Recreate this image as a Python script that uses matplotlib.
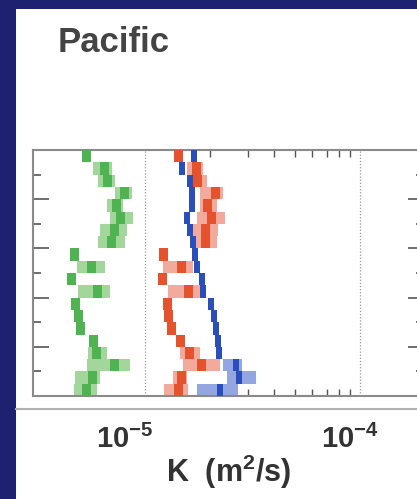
import numpy as np
import matplotlib.pyplot as plt
import matplotlib.transforms as mtransforms
from matplotlib.patches import Rectangle
from matplotlib.lines import Line2D

plt.rcParams['font.family'] = ['Liberation Sans', 'DejaVu Sans']
plt.rcParams['mathtext.fontset'] = 'custom'
plt.rcParams['mathtext.rm'] = 'Liberation Sans:bold'
plt.rcParams['mathtext.it'] = 'Liberation Sans:bold'

# depth levels (m), one bar per level
depth = np.array([125, 375, 625, 875, 1125, 1375, 1625, 1875, 2125, 2375,
                  2625, 2875, 3125, 3375, 3625, 3875, 4125, 4375, 4625, 4875])

# diffusivity K in units of 1e-5 m^2/s: best estimate and range
green_k = [0.537, 0.645, 0.666, 0.799, 0.733, 0.773, 0.718, 0.695, 0.468, 0.561,
           0.453, 0.598, 0.473, 0.488, 0.499, 0.573, 0.592, 0.725, 0.567, 0.532]
green_lo = [0.537, 0.573, 0.604, 0.725, 0.666, 0.687, 0.618, 0.604, 0.468, 0.483,
            0.453, 0.488, 0.473, 0.488, 0.499, 0.573, 0.543, 0.537, 0.473, 0.468]
green_hi = [0.537, 0.702, 0.725, 0.870, 0.790, 0.879, 0.825, 0.807, 0.468, 0.652,
            0.453, 0.687, 0.473, 0.488, 0.499, 0.573, 0.666, 0.852, 0.618, 0.598]

red_k = [1.424, 1.727, 1.764, 2.138, 1.963, 2.049, 1.921, 1.921, 1.213, 1.486,
         1.200, 1.585, 1.266, 1.293, 1.335, 1.455, 1.619, 1.841, 1.486, 1.424]
red_lo = [1.424, 1.568, 1.654, 1.803, 1.803, 1.746, 1.672, 1.672, 1.213, 1.213,
          1.200, 1.279, 1.266, 1.293, 1.335, 1.455, 1.455, 1.502, 1.349, 1.226]
red_hi = [1.424, 1.861, 1.942, 2.306, 2.162, 2.356, 2.185, 2.162, 1.213, 1.672,
          1.200, 1.803, 1.266, 1.293, 1.335, 1.455, 1.803, 2.233, 1.568, 1.585]

blue_k = [1.690, 1.486, 1.619, 1.654, 1.654, 1.568, 1.619, 1.672, 1.708, 1.746,
          1.841, 1.861, 2.028, 2.093, 2.138, 2.185, 2.209, 2.650, 2.736, 2.233]
blue_lo = [1.690, 1.486, 1.619, 1.654, 1.654, 1.568, 1.619, 1.672, 1.708, 1.746,
           1.841, 1.861, 2.028, 2.093, 2.138, 2.185, 2.209, 2.306, 2.407, 1.746]
blue_hi = [1.690, 1.486, 1.619, 1.654, 1.654, 1.568, 1.619, 1.672, 1.708, 1.746,
           1.841, 1.861, 2.028, 2.093, 2.138, 2.185, 2.209, 2.826, 3.283, 2.707]

series = [
    (green_k, green_lo, green_hi, '#4fb352', '#a3d69b', 9),
    (red_k, red_lo, red_hi, '#e5532e', '#f2aa9c', 9),
    (blue_k, blue_lo, blue_hi, '#2a4fbd', '#93a6e2', 6),
]

navy = '#1e2170'
fig = plt.figure(figsize=(4.17, 4.99), dpi=100, facecolor=navy)
fig.patches.append(Rectangle((16 / 417, 0), 1, 1 - 9 / 499, transform=fig.transFigure,
                             facecolor='white', edgecolor='none', zorder=-10))

ax = fig.add_axes([33 / 417, 1 - 396 / 499, (424 - 33) / 417, 246 / 499])
ax.set_xscale('log')
ax.set_xlim(3.013e-6, 1.985e-4)
ax.set_ylim(5000, 0)

px_per_decade = 215.0
dz = 250
for k, lo, hi, dark, light, wpx in series:
    k = np.array(k) * 1e-5
    lo = np.array(lo) * 1e-5
    hi = np.array(hi) * 1e-5
    ax.barh(depth, hi - lo, left=lo, height=dz, color=light, linewidth=0, zorder=2)
    fac = 10 ** (wpx / 2 / px_per_decade)
    ax.barh(depth, k * fac - k / fac, left=k / fac, height=dz, color=dark,
            linewidth=0, zorder=3)

for xv in [1e-5, 1e-4]:
    ax.axvline(xv, color='#999999', linestyle=(0, (1, 1.5)), linewidth=0.9, zorder=1)

# ticks
ax.set_xticks([1e-5, 1e-4])
ax.set_xticklabels([r'$\mathrm{10^{-5}}$', r'$\mathrm{10^{-4}}$'], fontsize=21,
                   color='#333333')
ax.set_xticks([m * 1e-5 for m in range(2, 10)], minor=True)
ax.xaxis.set_minor_formatter(plt.NullFormatter())
ax.tick_params(axis='x', which='major', length=0, pad=21)
ax.tick_params(axis='x', which='minor', direction='in', length=5, width=1,
               color='#555555', top=True, bottom=True)
for lab, off in zip(ax.get_xticklabels(), [-20, -10]):
    lab.set_transform(lab.get_transform() +
                      mtransforms.ScaledTranslation(off / 100, 0, fig.dpi_scale_trans))

ax.set_yticks(np.arange(0, 5001, 1000))
ax.set_yticks(np.arange(500, 5000, 1000), minor=True)
ax.set_yticklabels([])
ax.tick_params(axis='y', which='major', direction='in', length=11.5, width=1.2,
               color='#555555', left=True, right=True)
ax.tick_params(axis='y', which='minor', direction='in', length=5.8, width=1.2,
               color='#555555', left=True, right=True)

for s in ax.spines.values():
    s.set_color('#8a8a8a')
    s.set_linewidth(1.5)

ax.set_xlabel(r'K  (m$^\mathrm{2}$/s)', fontsize=22, fontweight='bold',
              color='#333333', labelpad=-1)

fig.text(58 / 417, 1 - 52 / 499, 'Pacific', fontsize=25, fontweight='bold',
         color='#444444', va='baseline', ha='left')

fig.add_artist(Line2D([16 / 417, 1], [1 - 409 / 499] * 2, transform=fig.transFigure,
                      color='#b0b0b0', linewidth=1.5))

fig.savefig('out.png', dpi=100, facecolor=navy)
